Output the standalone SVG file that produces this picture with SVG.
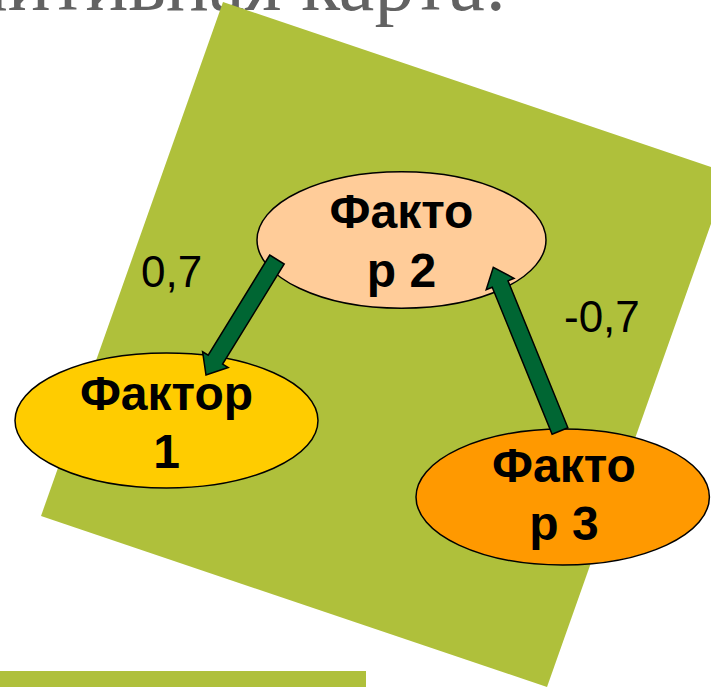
<svg xmlns="http://www.w3.org/2000/svg" width="711" height="687" viewBox="0 0 711 687">
  <style>
    .title { font-family: "Liberation Serif", "Times New Roman", serif; font-size: 80px; fill: #626262; }
    .panel { fill: #AFC03B; }
    .node ellipse { stroke: #000; stroke-width: 1.5; }
    .node text { font-family: "Liberation Sans", Arial, sans-serif; font-weight: bold; font-size: 48px; fill: #000; text-anchor: middle; }
    .weight { font-family: "Liberation Sans", Arial, sans-serif; font-size: 44px; fill: #000; }
    .arrow { fill: #006633; stroke: #000; stroke-width: 1.5; stroke-linejoin: miter; }
  </style>

  <rect width="711" height="687" fill="#FFFFFF"/>

  <!-- heading, cropped at the top edge -->
  <text class="title" x="507" y="10" text-anchor="end">Когнитивная карта:</text>

  <!-- tilted background panel -->
  <polygon class="panel" points="223,2 729,173 547,687 41,516"/>
  <!-- strip at the lower left -->
  <rect class="panel" x="0" y="671" width="366" height="16"/>

  <!-- edge weights -->
  <text class="weight" x="141" y="287">0,7</text>
  <text class="weight" x="564" y="332">-0,7</text>

  <g id="factor2" class="node">
    <ellipse cx="401.5" cy="240" rx="144.5" ry="68.3" fill="#FFCC99"/>
    <text x="401.5" y="228">Факто</text>
    <text x="401.5" y="287">р 2</text>
  </g>

  <g id="factor1" class="node">
    <ellipse cx="166.5" cy="420.5" rx="151.5" ry="67.5" fill="#FFCC00"/>
    <text x="166.5" y="410">Фактор</text>
    <text x="166.5" y="468">1</text>
  </g>

  <g id="factor3" class="node">
    <ellipse cx="562.7" cy="497" rx="146.7" ry="68" fill="#FF9900"/>
    <text x="564" y="482">Факто</text>
    <text x="564" y="540">р 3</text>
  </g>

  <g id="connectors">
    <!-- Фактор 2 -> Фактор 1 -->
    <polygon class="arrow" points="269.8,255.0 208.2,355.2 202.6,351.8 206,375 228.2,367.5 222.6,364.1 284.2,264.0"/>
    <!-- Фактор 3 -> Фактор 2 -->
    <polygon class="arrow" points="552.1,434.2 492.2,287.2 486.2,289.7 493.3,267.3 514.0,278.3 508.0,280.8 567.9,427.8"/>
  </g>
</svg>
